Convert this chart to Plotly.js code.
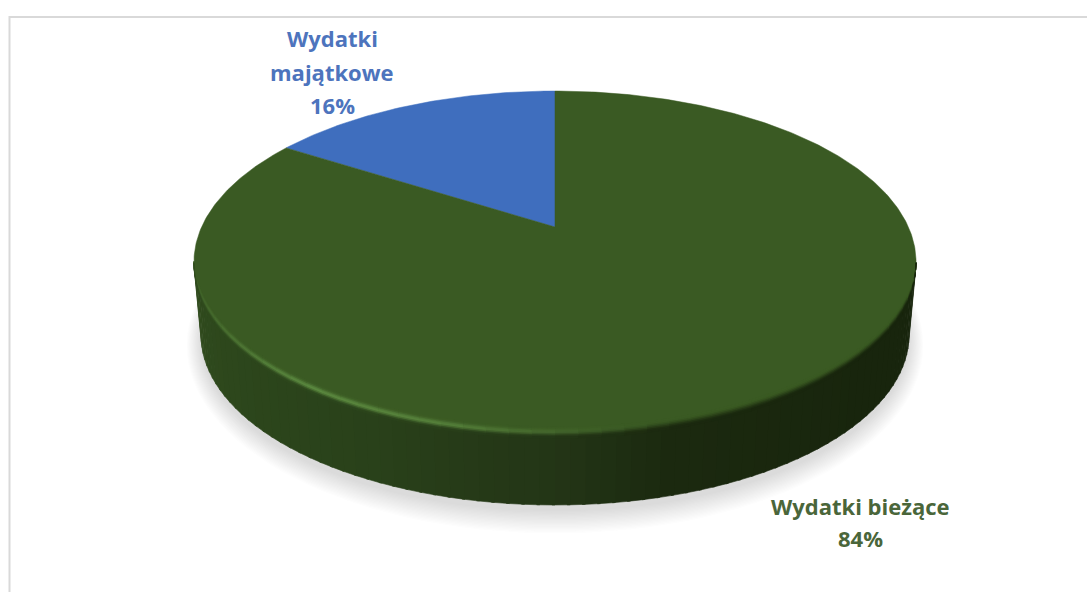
<!DOCTYPE html>
<html><head><meta charset="utf-8">
<script src="https://cdn.plot.ly/plotly-3.0.1.min.js"></script>
<style>html,body{margin:0;padding:0;background:#fff;overflow:hidden}</style></head>
<body><div id="chart" style="width:1087px;height:592px"></div>
<script>
const categories = ['Wydatki majątkowe', 'Wydatki bieżące'];
const shares = [16, 84];
const sliceColors = ['#3F6EBE', '#3A5A23'];
const labelLines = [['Wydatki', 'majątkowe', '16%'], ['Wydatki bieżące', '84%']];
const labelColors = ['#4D74BD', '#4A663A'];

const W = 1087, H = 592;
const cx = 555, apexY = 227, k = 0.2047, a = 163.8, b = 353.4;
const rad = Math.PI / 180;
function proj(theta) { // theta clockwise from 12 o'clock, in radians
  const u = Math.sin(theta), v = Math.cos(theta), d = 1 + k * v;
  return [cx + b * u / d, apexY - a * v / d];
}
const lower = {cy: 335, rx: 354, ry: 170};
function low(theta) {
  const p = proj(theta);
  const t = Math.atan2((p[0] - cx) / 361, (262 - p[1]) / 171);
  return [cx + lower.rx * Math.sin(t), lower.cy - lower.ry * Math.cos(t)];
}
const traces = [];
function poly(pts, color, name) {
  traces.push({type:'scatter', mode:'lines', x:pts.map(p=>p[0]), y:pts.map(p=>p[1]),
    fill:'toself', fillcolor:color, line:{width:0.6, color:color}, hoverinfo:'skip', showlegend:false, name:name||''});
}
const mix = (A, B, f) => A.map((q, j) => q + (B[j] - q) * f);
const css = c => `rgb(${Math.round(c[0])},${Math.round(c[1])},${Math.round(c[2])})`;
// soft shadow
for (let i = 18; i >= 1; i--) {
  const pts = [];
  for (let t = 0; t <= 360; t += 3) pts.push([cx + (353 + i*0.85) * Math.sin(t*rad), 340 + i*0.3 - (170 + i*1.0) * Math.cos(t*rad)]);
  poly(pts, 'rgba(70,70,70,0.012)');
}
// wall: shade runs from the light left side (theta 270) to the dark right side (theta 90)
const wallStops = [[90,[24,37,13]],[130,[24,37,13]],[165,[27,41,15]],[180,[35,53,22]],[205,[41,65,26]],[235,[45,71,28]],[270,[50,78,31]]];
function wallRgb(deg) {
  const d = Math.min(270, Math.max(90, deg));
  for (let i = 1; i < wallStops.length; i++) {
    if (d <= wallStops[i][0]) {
      const A = wallStops[i-1], B = wallStops[i];
      return mix(A[1], B[1], (d - A[0]) / (B[0] - A[0]));
    }
  }
  return wallStops[wallStops.length-1][1];
}
const edgeA = 102, edgeB = 258; // widest points of the top ellipse
for (let t = edgeA; t < edgeB; t += 2) {
  const t1 = Math.min(edgeB, t + 2.4);
  poly([proj(t*rad), proj(t1*rad), low(t1*rad), low(t*rad)], css(wallRgb(t+1.2)));
}
// top face from shares
const total = shares.reduce((p, q) => p + q, 0);
let start = -shares[0] / total * 2 * Math.PI;
shares.forEach((s, i) => {
  const span = s / total * 2 * Math.PI, pts = [[cx, apexY]];
  const n = Math.max(8, Math.round(s * 5));
  for (let j = 0; j <= n; j++) pts.push(proj(start + span * j / n));
  pts.push([cx, apexY]);
  traces.push({type:'scatter', mode:'lines', x:pts.map(p=>p[0]), y:pts.map(p=>p[1]), fill:'toself',
    fillcolor:sliceColors[i], line:{width:0.5, color:sliceColors[i]}, name:categories[i], hoverinfo:'name', showlegend:false});
  start += span;
});
// rounded rim: soft blend top->wall plus a highlight on the front-left
const topRgb = [58,90,35], hlRgb = [92,138,64];
function hlStrength(t) {
  const pts = [[165,0],[178,0.35],[195,0.85],[215,1],[240,0.45],[258,0.15]];
  if (t <= 165 || t >= 258) return 0;
  for (let i = 1; i < pts.length; i++) if (t <= pts[i][0]) return pts[i-1][1] + (pts[i][1]-pts[i-1][1])*(t-pts[i-1][0])/(pts[i][0]-pts[i-1][0]);
  return 0;
}
const band = [-6,-4,-2.5,-1,0.5,2,3.5,5];
for (let t = edgeA; t < edgeB; t += 3) {
  const fade = Math.min(1, Math.min(t - edgeA, edgeB - t) / 12);
  for (let s = 0; s < band.length - 1; s++) {
    const o0 = band[s] * fade, o1 = band[s+1] * fade, om = (band[s] + band[s+1]) / 2;
    const fx = Math.min(1, Math.max(0, (om + 4) / 8));
    const smooth = fx * fx * (3 - 2 * fx);
    let c = mix(topRgb, wallRgb(t + 1.5), smooth);
    c = mix(c, hlRgb, hlStrength(t + 1.5) * Math.exp(-Math.pow(om + 0.5, 2) / 7));
    const p0 = proj(t*rad), p1 = proj(Math.min(edgeB, t+3.3)*rad);
    poly([[p0[0], p0[1]+o0],[p1[0], p1[1]+o0],[p1[0], p1[1]+o1+0.4],[p0[0], p0[1]+o1+0.4]], css(c));
  }
}
const annotations = [];
const anchors = [[332, [38, 72, 105]], [860, [506, 538]]];
labelLines.forEach((ls, i) => ls.forEach((txt, j) => annotations.push({
  x: anchors[i][0], y: anchors[i][1][j], xref:'x', yref:'y', text:txt, showarrow:false, xanchor:'center', yanchor:'middle',
  font:{family:'"Open Sans", sans-serif', size:22, color:labelColors[i], weight:700}
})));
Plotly.newPlot('chart', traces, {
  width:W, height:H, margin:{l:0,r:0,t:0,b:0}, paper_bgcolor:'#fff', plot_bgcolor:'#fff', showlegend:false,
  xaxis:{range:[0,W], visible:false, fixedrange:true},
  yaxis:{range:[H,0], visible:false, fixedrange:true},
  shapes:[{type:'rect', xref:'x', yref:'y', x0:9.5, y0:17, x1:W+20, y1:H+20, line:{color:'#D9D9D9', width:2}, fillcolor:'rgba(0,0,0,0)', layer:'above'}],
  annotations:annotations
}, {displayModeBar:false, staticPlot:true});
</script></body></html>
